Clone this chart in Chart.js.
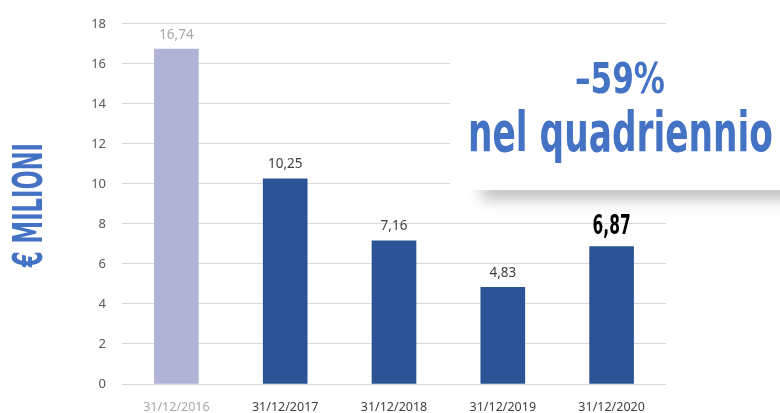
<!DOCTYPE html>
<html>
<head>
<meta charset="utf-8">
<script src="https://cdn.jsdelivr.net/npm/chart.js@4"></script>
<style>
  body { margin: 0; background: #ffffff; }
  canvas { display: block; }
</style>
</head>
<body>
<canvas id="chart" width="780" height="413"></canvas>
<script>
// --- Data ---
const categories = ['31/12/2016', '31/12/2017', '31/12/2018', '31/12/2019', '31/12/2020'];
const values = [16.74, 10.25, 7.16, 4.83, 6.87];
const yMin = 0;
const yMax = 18;
const yStep = 2;
const axisTitle = '€ MILIONI';
const headline = ['–59%', 'nel quadriennio'];

const fmt = v => v.toFixed(2).replace('.', ',');

const BLUE = '#2a5496';
const LAVENDER = '#b0b2d6';
const FADED = '#a8a8a8';
const DARK = '#404040';
const CONDENSED = "'Liberation Sans Narrow', 'DejaVu Sans Condensed', 'DejaVu Sans', sans-serif";

// draw text squeezed/stretched to a given width
function fitText(ctx, text, x, y, font, width, color) {
    ctx.save();
    ctx.font = font;
    const w = ctx.measureText(text).width;
    ctx.translate(x, y);
    ctx.scale(width / w, 1);
    ctx.textAlign = 'center';
    ctx.textBaseline = 'alphabetic';
    ctx.fillStyle = color;
    ctx.fillText(text, 0, 0);
    ctx.restore();
}

const decorations = {
    id: 'decorations',
    beforeDatasetsDraw(chart) {
        const ctx = chart.ctx;
        // soft shadow band under the headline panel
        ctx.save();
        ctx.shadowColor = 'rgba(0,0,0,0.30)';
        ctx.shadowBlur = 16;
        ctx.shadowOffsetY = 10;
        ctx.fillStyle = '#ffffff';
        ctx.fillRect(482, 172, 330, 16);
        ctx.restore();
        // white panel hiding the grid behind the headline
        ctx.fillStyle = '#ffffff';
        ctx.fillRect(450, 28, 340, 162);
    },
    afterDatasetsDraw(chart) {
        const ctx = chart.ctx;
        const meta = chart.getDatasetMeta(0);

        // value labels
        meta.data.forEach((bar, i) => {
            const last = i === values.length - 1;
            if (last) {
                fitText(ctx, fmt(values[i]), bar.x, bar.y - 13, 'bold 27px ' + CONDENSED, 38, '#000000');
            } else {
                ctx.save();
                ctx.font = '13.5px "Noto Sans"';
                ctx.textAlign = 'center';
                ctx.textBaseline = 'alphabetic';
                ctx.fillStyle = i === 0 ? FADED : DARK;
                ctx.fillText(fmt(values[i]), bar.x, bar.y - 10.5);
                ctx.restore();
            }
        });

        // headline
        fitText(ctx, headline[0], 620, 93, 'bold 43px ' + CONDENSED, 90, '#4472c4');
        fitText(ctx, headline[1], 620.5, 151, 'bold 56px ' + CONDENSED, 305, '#4472c4');

        // rotated axis title
        ctx.save();
        ctx.translate(42, 205);
        ctx.rotate(-Math.PI / 2);
        fitText(ctx, axisTitle, 0, 0, 'bold 41px ' + CONDENSED, 124, '#4472c4');
        ctx.restore();
    }
};

const ctx = document.getElementById('chart').getContext('2d');

new Chart(ctx, {
    type: 'bar',
    data: {
        labels: categories,
        datasets: [{
            data: values,
            backgroundColor: c => c.dataIndex === 0 ? LAVENDER : BLUE,
            barThickness: 44,
            borderWidth: 0
        }]
    },
    options: {
        responsive: false,
        devicePixelRatio: 1,
        animation: false,
        layout: { padding: { top: 21, right: 114, left: 0, bottom: 0 } },
        plugins: {
            legend: { display: false },
            tooltip: { enabled: false }
        },
        scales: {
            x: {
                grid: { display: false },
                border: { display: false },
                ticks: {
                    padding: 8,
                    font: { family: 'Noto Sans', size: 12.5 },
                    color: c => c.index === 0 ? FADED : DARK
                },
                afterFit: s => { s.height = 29; }
            },
            y: {
                min: yMin,
                max: yMax,
                border: { display: false },
                grid: { color: '#d9d9d9', lineWidth: 1, drawTicks: false },
                ticks: {
                    stepSize: yStep,
                    padding: 16,
                    font: { family: 'Noto Sans', size: 13 },
                    color: '#595959'
                },
                afterFit: s => { s.width = 122; }
            }
        }
    },
    plugins: [decorations]
});
</script>
</body>
</html>
